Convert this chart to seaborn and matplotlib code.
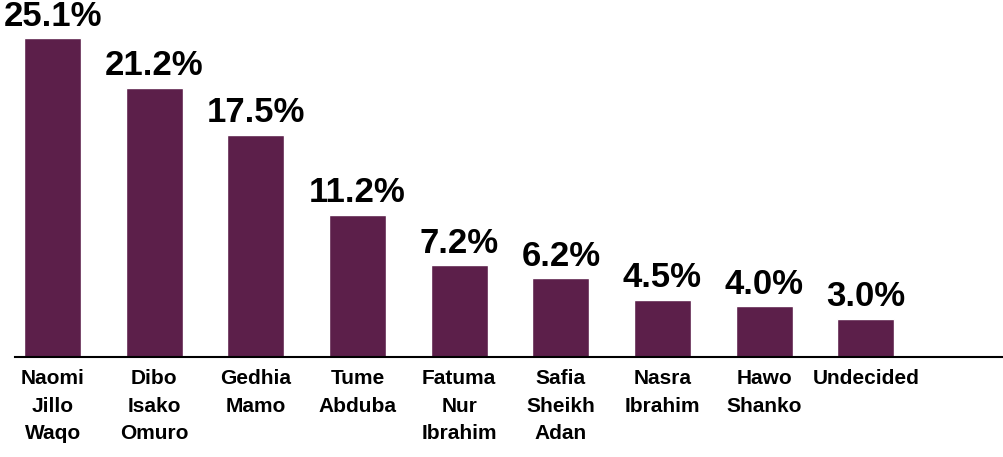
import matplotlib
matplotlib.use("Agg")
import matplotlib.pyplot as plt
import seaborn as sns
import pandas as pd

# candidates and their share
candidates = ["Naomi\nJillo\nWaqo", "Dibo\nIsako\nOmuro", "Gedhia\nMamo", "Tume\nAbduba",
              "Fatuma\nNur\nIbrahim", "Safia\nSheikh\nAdan", "Nasra\nIbrahim", "Hawo\nShanko",
              "Undecided"]
shares = [25.1, 21.2, 17.5, 11.2, 7.2, 6.2, 4.5, 4.0, 3.0]
labels = ["25.1%", "21.2%", "17.5%", "11.2%", "7.2%", "6.2%", "4.5%", "4.0%", "3.0%"]

df = pd.DataFrame({"Candidate": candidates, "Share": shares})

sns.set_style("white")
plt.rcParams["font.family"] = ["Liberation Sans", "DejaVu Sans"]

fig = plt.figure(figsize=(10.04, 4.57), dpi=100)
ax = fig.add_axes([0.015, 0.219, 0.985, 0.781])

sns.barplot(data=df, x="Candidate", y="Share", color="#5C1F4A", saturation=1,
            width=0.56, ax=ax)

for i, (v, lab) in enumerate(zip(shares, labels)):
    ax.annotate(lab, (i, v), xytext=(0, 4), textcoords="offset points",
                ha="center", va="bottom", fontsize=25, fontweight="bold", color="black")

ax.set_xlim(-0.37, 9.36)
ax.set_ylim(0, 28.1)
ax.set_xlabel("")
ax.set_ylabel("")
ax.set_yticks([])
for s in ["top", "right", "left"]:
    ax.spines[s].set_visible(False)
ax.spines["bottom"].set_color("black")
ax.spines["bottom"].set_linewidth(1.5)
ax.tick_params(axis="x", length=0, pad=9)
for t in ax.get_xticklabels():
    t.set_fontsize(15)
    t.set_fontweight("bold")
    t.set_color("black")
    t.set_linespacing(1.55)
    t.set_verticalalignment("top")

fig.savefig("out.png", dpi=100)
